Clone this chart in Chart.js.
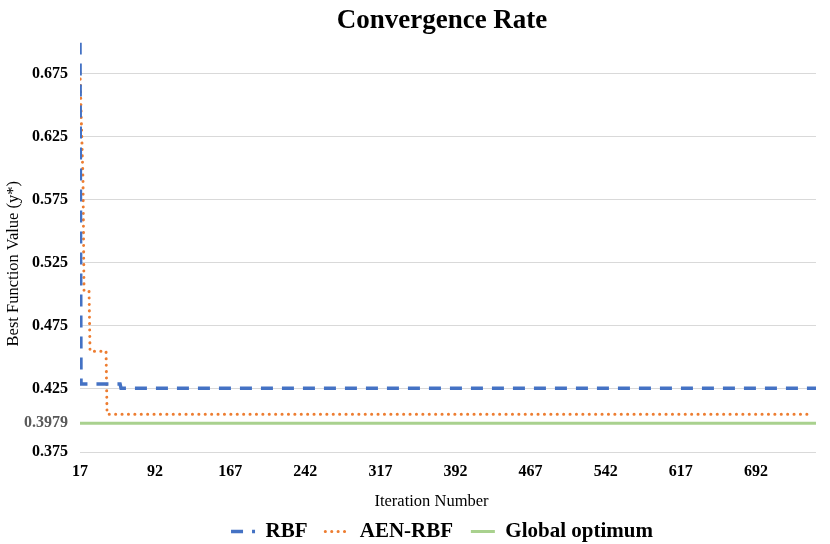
<!DOCTYPE html>
<html>
<head>
<meta charset="utf-8">
<script src="https://cdn.jsdelivr.net/npm/chart.js@4"></script>
<style>
  html, body { margin: 0; padding: 0; background: #fff; }
  #wrap { width: 830px; height: 544px; }
</style>
</head>
<body>
<div id="wrap"><canvas id="convChart"></canvas></div>
<script>
// Values
const rbfIter = [17, 18, 57, 58, 752];
const rbfBest = [0.700, 0.429, 0.429, 0.4255, 0.4255];

const aenIter = [17, 20, 21, 26, 27, 43, 44, 749];
const aenBest = [0.676, 0.590, 0.503, 0.503, 0.455, 0.455, 0.405, 0.405];

const globalIter = [17, 752];
const globalBest = [0.3979, 0.3979];

const xTicks = [17, 92, 167, 242, 317, 392, 467, 542, 617, 692];
const yTicks = [0.375, 0.3979, 0.425, 0.475, 0.525, 0.575, 0.625, 0.675];

const serif = '"Liberation Serif", "Times New Roman", serif';
const nb = '\u00a0';

function pts(xs, ys) {
    return xs.map((x, i) => ({ x: x, y: ys[i] }));
}

// title and legend sit centred over the plot, not the canvas
const shiftBlocks = {
    id: 'shiftBlocks',
    afterLayout(chart) {
        [chart.titleBlock, chart.legend].forEach(b => {
            if (b) { b.left += 32; b.right += 32; }
        });
    }
};

const ctx = document.getElementById('convChart').getContext('2d');
const convChart = new Chart(ctx, {
    type: 'line',
    data: {
        datasets: [{
            label: 'RBF',
            data: pts(rbfIter, rbfBest),
            borderColor: '#4472C4',
            backgroundColor: '#4472C4',
            borderWidth: 3.5,
            borderDash: [12, 9],
            pointRadius: 0,
            tension: 0
        }, {
            label: 'AEN-RBF',
            data: pts(aenIter, aenBest),
            borderColor: '#ED7D31',
            backgroundColor: '#ED7D31',
            borderWidth: 3,
            borderDash: [0.1, 6.3],
            borderCapStyle: 'round',
            pointRadius: 0,
            tension: 0
        }, {
            label: 'Global optimum',
            data: pts(globalIter, globalBest),
            borderColor: '#A9D18E',
            backgroundColor: '#A9D18E',
            borderWidth: 3,
            pointRadius: 0,
            tension: 0
        }]
    },
    options: {
        responsive: true,
        maintainAspectRatio: false,
        animation: false,
        layout: { padding: { left: 4, right: 14, top: 2, bottom: -8 } },
        plugins: {
            title: {
                display: true,
                text: 'Convergence Rate',
                color: '#000',
                font: { family: serif, size: 27, weight: 'bold' },
                padding: { top: 3, bottom: 5 }
            },
            legend: {
                position: 'bottom',
                labels: {
                    usePointStyle: true,
                    pointStyle: 'line',
                    pointStyleWidth: 24,
                    color: '#000',
                    font: { family: serif, size: 21, weight: 'bold' },
                    padding: 2,
                    generateLabels: (chart) => {
                        const items = Chart.defaults.plugins.legend.labels.generateLabels(chart);
                        const last = items.length - 1;
                        items.forEach((it, i) => {
                            const ds = chart.data.datasets[it.datasetIndex];
                            it.lineDash = ds.borderDash || [];
                            it.lineWidth = ds.borderWidth;
                            it.lineCap = ds.borderCapStyle || 'butt';
                            it.strokeStyle = ds.borderColor;
                            if (i < last) it.text = it.text + nb.repeat(3);
                        });
                        return items;
                    }
                }
            },
            tooltip: { enabled: false }
        },
        scales: {
            x: {
                type: 'linear',
                min: 17,
                max: 752,
                afterBuildTicks: (axis) => {
                    axis.ticks = xTicks.map(v => ({ value: v }));
                },
                grid: { display: false, drawTicks: false },
                border: { display: false },
                ticks: {
                    color: '#000',
                    padding: 10,
                    maxRotation: 0,
                    font: { family: serif, size: 16, weight: 'bold' }
                },
                title: {
                    display: true,
                    text: 'Iteration Number' + nb.repeat(8),
                    color: '#000',
                    font: { family: serif, size: 16.5 },
                    padding: { top: 1, bottom: 7 }
                }
            },
            y: {
                min: 0.375,
                max: 0.700,
                afterBuildTicks: (axis) => {
                    axis.ticks = yTicks.map(v => ({ value: v }));
                },
                afterFit: (axis) => { axis.width = 76; },
                grid: {
                    color: (c) => (c.tick && c.tick.value === 0.3979) ? 'rgba(0,0,0,0)' : '#d9d9d9',
                    drawTicks: false
                },
                border: { display: false },
                ticks: {
                    padding: 12,
                    color: (c) => (c.tick && c.tick.value === 0.3979) ? '#595959' : '#000',
                    callback: (v) => String(v),
                    font: { family: serif, size: 16, weight: 'bold' }
                },
                title: {
                    display: true,
                    text: 'Best Function Value (y*)' + nb.repeat(8),
                    color: '#000',
                    font: { family: serif, size: 16.5 },
                    padding: { top: 0, bottom: 0 }
                }
            }
        }
    },
    plugins: [shiftBlocks]
});
</script>
</body>
</html>
